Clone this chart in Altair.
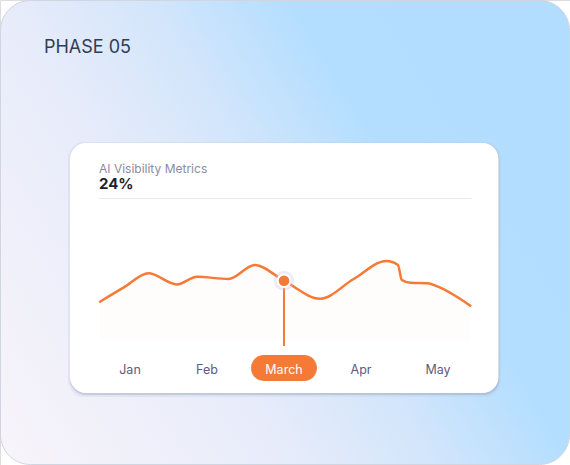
import altair as alt
import pandas as pd

# ---- data ----
months = ["Jan", "Feb", "March", "Apr", "May"]
month_idx = [0, 1, 2, 3, 4]
selected_month = "March"
selected_value = 24

# line path: position in months, metric value (%)
series_x = [-0.39, -0.08, 0.24, 0.61, 0.87, 1.28, 1.62, 2.0, 2.47, 2.9, 3.33, 3.48, 3.53, 3.64, 3.87, 4.0, 4.42]
series_y = [15.5, 21.3, 27.0, 22.5, 25.6, 24.7, 30.4, 24.0, 16.7, 24.6, 32.0, 30.4, 24.3, 23.2, 23.0, 21.6, 13.9]

title_text = "PHASE 05"
card_title = "AI Visibility Metrics"
card_value = "24%"

ORANGE = "#f47a36"
FONT = "Inter"

line_df = pd.DataFrame({"m": series_x, "v": series_y})
month_df = pd.DataFrame({"month": months, "m": month_idx})
sel_df = pd.DataFrame({"month": [selected_month], "m": [months.index(selected_month)], "v": [selected_value]})
one = pd.DataFrame({"a": [0]})

xs = alt.Scale(domain=[0, 4], range=[130, 438])
ys = alt.Scale(domain=[0, 30], range=[340, 265.9])

bg = alt.Chart(one).mark_rect(
    cornerRadius=30, stroke="#cfd5e1", strokeWidth=1,
    color=alt.Gradient(
        gradient="linear", x1=0, y1=1, x2=1.2, y2=0.4,
        stops=[alt.GradientStop(color="#f8f4fa", offset=0),
               alt.GradientStop(color="#e8ecfa", offset=0.33),
               alt.GradientStop(color="#d4e6fb", offset=0.5),
               alt.GradientStop(color="#b4deff", offset=0.67),
               alt.GradientStop(color="#b3ddfe", offset=1)]),
).encode(x=alt.value(0.5), x2=alt.value(569.5), y=alt.value(0.5), y2=alt.value(464.5))

title = alt.Chart(one).mark_text(
    text=title_text, font=FONT, fontSize=18, color="#2f3d55", align="left", baseline="alphabetic"
).encode(x=alt.value(44), y=alt.value(53))

shadow = alt.Chart(one).mark_rect(cornerRadius=16, color="#8f9ab0", opacity=0.35).encode(
    x=alt.value(70), x2=alt.value(499.5), y=alt.value(144), y2=alt.value(395))
shadow2 = alt.Chart(one).mark_rect(cornerRadius=17, color="#b8c4d8", opacity=0.25).encode(
    x=alt.value(68), x2=alt.value(501), y=alt.value(142), y2=alt.value(397))
card = alt.Chart(one).mark_rect(cornerRadius=16, color="#ffffff").encode(
    x=alt.value(70), x2=alt.value(498.5), y=alt.value(143), y2=alt.value(393))

ctitle = alt.Chart(one).mark_text(
    text=card_title, font=FONT, fontSize=12, color="#8b8ba0", align="left", baseline="alphabetic"
).encode(x=alt.value(99), y=alt.value(173))
cvalue = alt.Chart(one).mark_text(
    text=card_value, font=FONT, fontSize=15, fontWeight="bold", color="#1e1e32", align="left", baseline="alphabetic"
).encode(x=alt.value(99), y=alt.value(189))
divider = alt.Chart(one).mark_rule(color="#e9e9f0", strokeWidth=1).encode(
    x=alt.value(99), x2=alt.value(471), y=alt.value(198.5))

area = alt.Chart(line_df).mark_area(interpolate="monotone", color=ORANGE, opacity=0.015).encode(
    x=alt.X("m:Q", scale=xs, axis=None), y=alt.Y("v:Q", scale=ys, axis=None), y2=alt.value(340))
line = alt.Chart(line_df).mark_line(interpolate="monotone", color=ORANGE, strokeWidth=2.5, strokeCap="round").encode(
    x=alt.X("m:Q", scale=xs, axis=None), y=alt.Y("v:Q", scale=ys, axis=None))

stem = alt.Chart(sel_df).mark_rule(color=ORANGE, strokeWidth=2).encode(
    x=alt.X("m:Q", scale=xs, axis=None), y=alt.Y("v:Q", scale=ys, axis=None), y2=alt.value(346))
halo = alt.Chart(sel_df).mark_circle(color="#c9c6f2", opacity=0.35, size=400).encode(
    x=alt.X("m:Q", scale=xs, axis=None), y=alt.Y("v:Q", scale=ys, axis=None))
dot = alt.Chart(sel_df).mark_circle(color=ORANGE, opacity=1, size=160, stroke="white", strokeWidth=2).encode(
    x=alt.X("m:Q", scale=xs, axis=None), y=alt.Y("v:Q", scale=ys, axis=None))

pill = alt.Chart(sel_df).mark_rect(width=66, height=26, cornerRadius=13, color=ORANGE).encode(
    x=alt.X("m:Q", scale=xs, axis=None), y=alt.value(368))

labels = alt.Chart(month_df).mark_text(font=FONT, fontSize=12.5, baseline="alphabetic").encode(
    x=alt.X("m:Q", scale=xs, axis=None), y=alt.value(373.5), text="month:N",
    color=alt.condition(alt.datum.month == selected_month, alt.value("#ffffff"), alt.value("#5d5c7c")))

chart = alt.layer(
    bg, title, shadow2, shadow, card, ctitle, cvalue, divider, area, line, stem, halo, dot, pill, labels
).properties(
    width=570, height=465, autosize=alt.AutoSizeParams(type="none"), padding=0
).configure_view(stroke=None).configure(background="white")

chart.save("out.html", embed_options={"renderer": "svg", "actions": False})
